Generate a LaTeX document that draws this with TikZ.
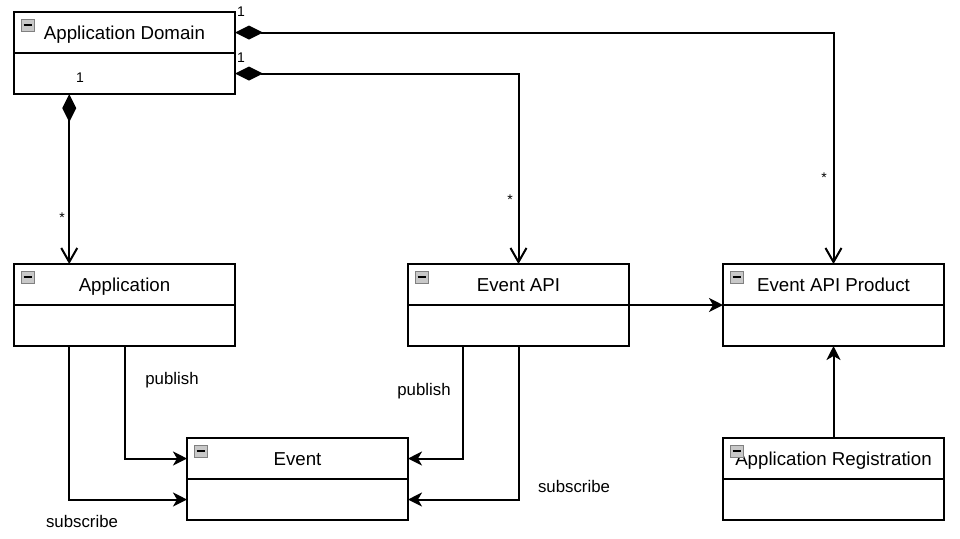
\documentclass[tikz,border=0pt]{standalone}
\usepackage{fontspec}
\setmainfont{Liberation Sans}
\usetikzlibrary{arrows.meta, positioning, calc}
\definecolor{iconcolor}{RGB}{200,200,200}

\begin{document}
\begin{tikzpicture}[
    x=0.5pt, y=-0.5pt,
    classhead/.style={draw, line width=1pt, minimum width=110.5pt, minimum height=20.5pt, outer sep=0pt, inner sep=0pt, text height=8.8pt, text depth=2pt, font=\fontsize{9.35}{11}\selectfont},
    classbody/.style={draw, line width=1pt, minimum width=110.5pt, minimum height=20.5pt, outer sep=0pt, inner sep=0pt, below=0pt of #1},
    compose/.style={{Diamond[length=14pt,width=7pt]}-{Straight Barb[length=7pt,width=8pt]}, line width=1pt},
    flow/.style={-{Stealth[length=7pt,width=7pt,inset=2pt]}, line width=1pt},
    rolelabel/.style={font=\fontsize{8.4}{10}\selectfont, inner sep=0pt},
    multlabel/.style={font=\fontsize{7}{8}\selectfont, inner sep=0pt}
]
    \useasboundingbox (0,0) rectangle (960,538);

    % Top level
    \node[classhead] (appdomain) at (124.5,32.5) {Application Domain};
    \node[classbody=appdomain] (appdomain-body) {};

    % Middle row
    \node[classhead] (app) at (124.5,284.5) {Application};
    \node[classbody=app] (app-body) {};
    \node[classhead] (eventapi) at (518.5,284.5) {Event API};
    \node[classbody=eventapi] (eventapi-body) {};
    \node[classhead] (eap) at (833.5,284.5) {Event API Product};
    \node[classbody=eap] (eap-body) {};

    % Bottom row
    \node[classhead] (event) at (297.5,458.5) {Event};
    \node[classbody=event] (event-body) {};
    \node[classhead] (appreg) at (833.5,458.5) {Application Registration};
    \node[classbody=appreg] (appreg-body) {};

    % Collapse icons
    \foreach \c in {appdomain,app,eventapi,eap,event,appreg}{
        \draw[fill=iconcolor, draw=gray, line width=0.4pt] ($(\c.north west)+(7,7)$) rectangle +(13,12);
        \draw[line width=1pt] ($(\c.north west)+(9.5,13)$) -- +(8,0);
    }

    % Composition lines
    \coordinate (domfoot) at ($(appdomain-body.south west)!0.25!(appdomain-body.south east)$);
    \draw[compose] (domfoot) -- (domfoot |- app.north);
    \draw[compose] (appdomain.east) -| (eap.north);
    \draw[compose] (appdomain-body.east) -| (eventapi.north);

    \node[multlabel] (m1) at (80,78) {1};
    \node[multlabel] (m2) at (241,12) {1};
    \node[multlabel] (m3) at (241,58) {1};
    \node[multlabel] (m4) at (62,218) {*};
    \node[multlabel] (m5) at (510,200) {*};
    \node[multlabel] (m6) at (824,178) {*};

    % Other links
    \draw[flow] (eventapi.south east) -- (eap.south west);
    \draw[flow] (appreg.north) -- (eap-body.south);

    \coordinate (appfoot) at ($(app-body.south west)!0.25!(app-body.south east)$);
    \coordinate (apifoot) at ($(eventapi-body.south west)!0.25!(eventapi-body.south east)$);
    \draw[flow] (app-body.south) |- (event.west);
    \draw[flow] (appfoot) |- (event-body.west);
    \draw[flow] (apifoot) |- (event.east);
    \draw[flow] (eventapi-body.south) |- (event-body.east);

    \node[rolelabel] (pub1) at (172,380) {publish};
    \node[rolelabel] (sub1) at (82,521) {subscribe};
    \node[rolelabel] (pub2) at (424,391) {publish};
    \node[rolelabel] (sub2) at (574,486) {subscribe};
\end{tikzpicture}
\end{document}
